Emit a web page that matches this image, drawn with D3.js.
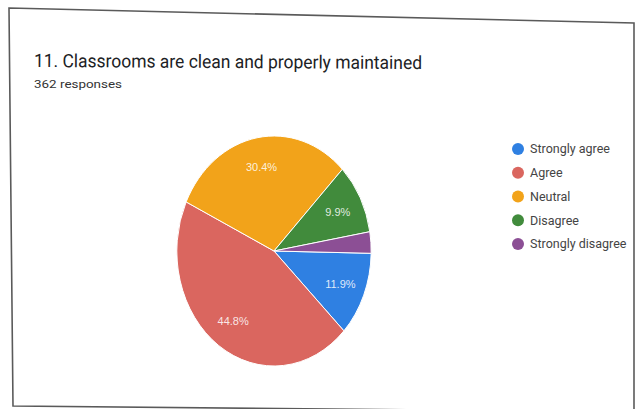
<!DOCTYPE html>
<html>
<head>
<meta charset="utf-8">
<script src="https://cdn.jsdelivr.net/npm/d3@7"></script>
<style>
  html, body { margin: 0; padding: 0; background: #fff; }
  svg { display: block; }
</style>
</head>
<body>
<svg id="chart" width="642" height="409"></svg>
<script>
const categories = ["Strongly agree", "Agree", "Neutral", "Disagree", "Strongly disagree"];
const values = [11.9, 44.8, 30.4, 9.9, 3.0];
const labels = ["11.9%", "44.8%", "30.4%", "9.9%", ""];
const colors = ["#2f80e2", "#da665f", "#f2a31a", "#418b3c", "#8c4f95"];
const titleText = "11. Classrooms are clean and properly maintained";
const subtitleText = "362 responses";

const svg = d3.select("#chart");

// card border (photographed, slightly skewed)
svg.append("path")
  .attr("d", d3.line()([[9, 8], [634, 23], [634, 412], [13, 406]]) + "Z")
  .attr("fill", "#fff")
  .attr("stroke", "#5a5a5a")
  .attr("stroke-width", 1.6);

// title
svg.append("text")
  .attr("x", 34).attr("y", 67)
  .attr("transform", "rotate(0.3,34,67)")
  .attr("font-family", "Roboto, sans-serif")
  .attr("font-size", 18.5)
  .attr("fill", "#202124")
  .attr("textLength", 388)
  .attr("lengthAdjust", "spacingAndGlyphs")
  .text(titleText);

svg.append("text")
  .attr("x", 34).attr("y", 88)
  .attr("font-family", "Roboto, sans-serif")
  .attr("font-size", 11.5)
  .attr("fill", "#333")
  .attr("textLength", 88)
  .attr("lengthAdjust", "spacingAndGlyphs")
  .text(subtitleText);

// pie
const cx = 274, cy = 251, R = 115, sx = 0.845;
const pie = d3.pie().sort(null).value(d => d)
  .startAngle(Math.PI / 2 + 0.02).endAngle(Math.PI / 2 + 0.02 + 2 * Math.PI);
const arcs = pie(values);
const arc = d3.arc().innerRadius(0).outerRadius(R);
const labelArc = d3.arc().innerRadius(R * 0.74).outerRadius(R * 0.74);

const g = svg.append("g").attr("transform", `translate(${cx},${cy}) scale(${sx},1)`);
g.selectAll("path.slice")
  .data(arcs)
  .join("path")
  .attr("class", "slice")
  .attr("d", arc)
  .attr("fill", (d, i) => colors[i])
  .attr("stroke", "#fff")
  .attr("stroke-width", 1)
  .attr("vector-effect", "non-scaling-stroke");

svg.append("g").attr("transform", `translate(${cx},${cy})`)
  .selectAll("text")
  .data(arcs)
  .join("text")
  .attr("x", d => labelArc.centroid(d)[0] * sx)
  .attr("y", d => labelArc.centroid(d)[1])
  .attr("dy", "0.35em")
  .attr("text-anchor", "middle")
  .attr("font-family", "Arial, 'Liberation Sans', sans-serif")
  .attr("font-size", 11)
  .attr("fill", "#fff")
  .attr("fill-opacity", 0.85)
  .text((d, i) => labels[i]);

// legend
const legendY = d3.scalePoint().domain(categories).range([149, 244]);
const lg = svg.append("g");
const items = lg.selectAll("g").data(categories).join("g")
  .attr("transform", d => `translate(518,${legendY(d)})`);
items.append("circle").attr("r", 6).attr("fill", (d, i) => colors[i]);
items.append("text")
  .attr("x", 12).attr("dy", "0.35em")
  .attr("font-family", "Roboto, sans-serif")
  .attr("font-size", 12.5)
  .attr("fill", "#444")
  .text(d => d);
</script>
</body>
</html>
